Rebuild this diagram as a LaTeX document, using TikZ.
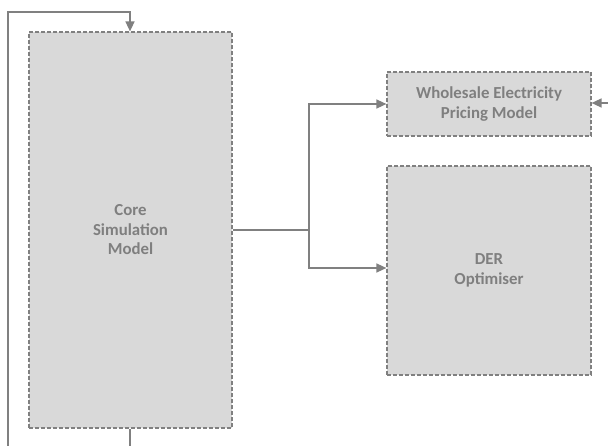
\documentclass[tikz,border=0pt]{standalone}
\usepackage{fontspec}
\setmainfont{Carlito}
\usetikzlibrary{arrows.meta,calc}
\definecolor{boxfill}{HTML}{D9D9D9}
\definecolor{linegray}{HTML}{808080}
\definecolor{textgray}{HTML}{7F7F7F}
\tikzset{
  block/.style={draw=linegray, fill=boxfill, line width=1.2pt, dash pattern=on 4pt off 2pt,
    align=center, text=textgray, font=\fontsize{16.8}{19.5}\selectfont\bfseries, inner sep=0pt},
  conn/.style={draw=linegray, line width=1.5pt},
  arr/.style={conn, -{Triangle[length=10pt,width=9pt]}}
}
\begin{document}
\begin{tikzpicture}[x=1pt,y=-1pt]
\useasboundingbox (0,0) rectangle (608,446);
\node[block, minimum width=203pt, minimum height=396pt] (core) at (130.5,230) {Core\\Simulation\\Model};
\node[block, minimum width=204pt, minimum height=64pt] (wpm) at (489,104) {Wholesale Electricity\\Pricing Model};
\node[block, minimum width=204pt, minimum height=209pt] (der) at (489,270.5) {DER\\Optimiser};
\coordinate (split) at (309,230);
\coordinate (loopBottom) at (8,446);
\coordinate (coreBottom) at (130,446);
\coordinate (rightIn) at (608,103);
\draw[conn] (core.east) -- (split);
\draw[arr] (split) |- (wpm.west);
\draw[arr] (split) |- ($(der.west)+(0,-2.5)$);
\draw[arr] (loopBottom) |- (130,12) -- (core.north -| 130,0);
\draw[conn] (core.south -| coreBottom) -- (coreBottom);
\draw[arr] (rightIn) -- (wpm.east |- rightIn);
\end{tikzpicture}
\end{document}
